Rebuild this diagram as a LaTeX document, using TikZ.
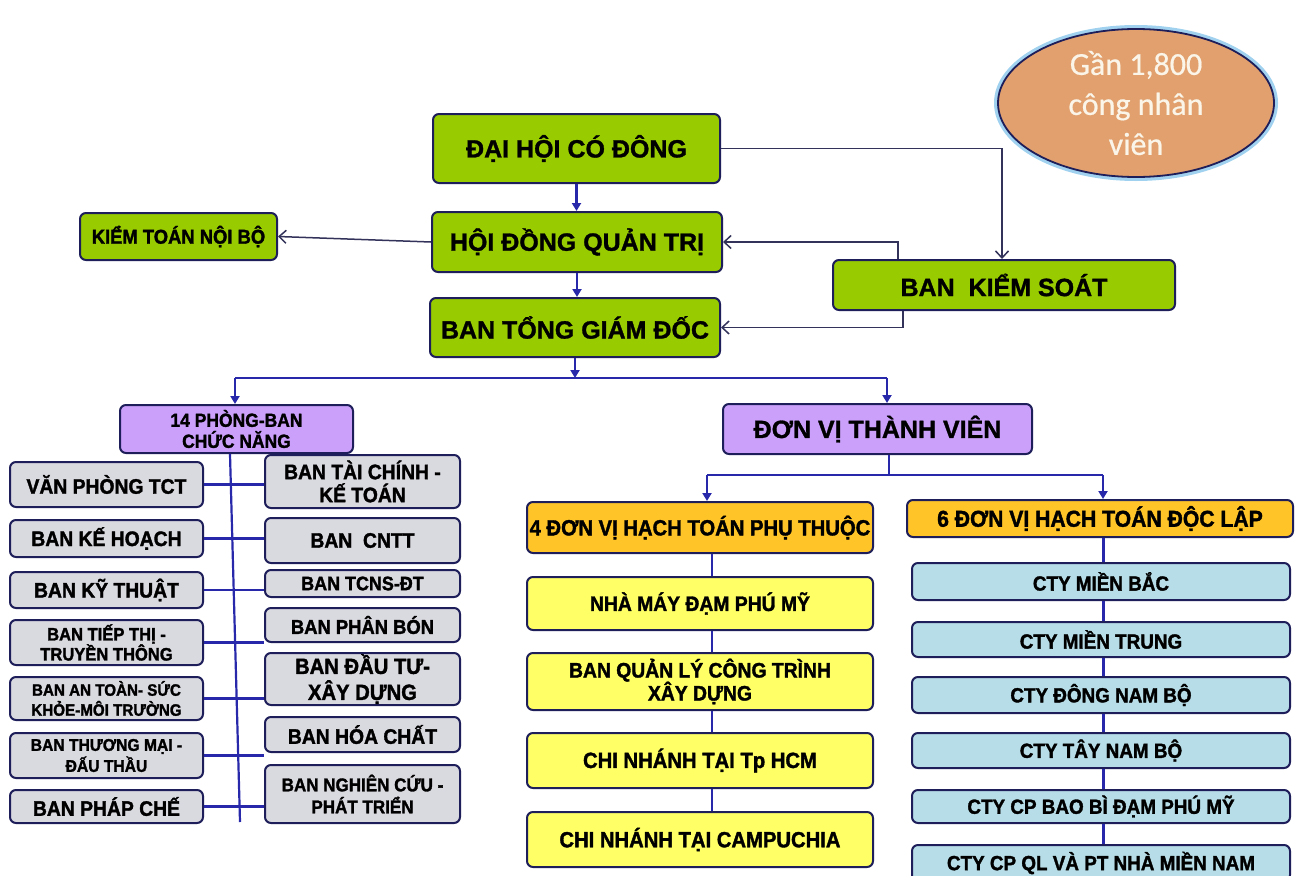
\documentclass[tikz,border=0pt]{standalone}
\usepackage{fontspec}
\setmainfont{Liberation Sans}[BoldFeatures={FakeBold=1.2}]
\newfontfamily\nfam{Liberation Sans}[FakeStretch=0.92, BoldFeatures={FakeBold=1.6}]
\newfontfamily\cfam{Carlito}[FakeBold=0.6]
\usetikzlibrary{arrows.meta,shapes.geometric,calc}
\definecolor{grn}{RGB}{153,204,0}
\definecolor{boxline}{RGB}{30,30,90}
\definecolor{gry}{RGB}{217,217,224}
\definecolor{pur}{RGB}{202,160,250}
\definecolor{org}{RGB}{255,196,40}
\definecolor{yel}{RGB}{255,255,102}
\definecolor{lbl}{RGB}{183,222,232}
\definecolor{conn}{RGB}{40,40,170}
\definecolor{thinc}{RGB}{50,50,90}
\definecolor{ellf}{RGB}{225,160,110}
\definecolor{glow}{RGB}{160,210,240}
\definecolor{etext}{RGB}{250,245,232}
\newcommand\fG[2]{\fontsize{#1}{#2}\selectfont\bfseries}
\newcommand\fN[2]{\nfam\fontsize{#1}{#2}\selectfont\bfseries}
\newcommand\BX[8]{%
  \pgfmathsetmacro\cxx{(#3+#5)/2}\pgfmathsetmacro\cyy{(#4+#6)/2}%
  \pgfmathsetmacro\ww{#5-#3}\pgfmathsetmacro\hh{#6-#4}%
  \node[#1, minimum width=\ww pt, minimum height=\hh pt, font=#7] (#2) at (\cxx,\cyy) {#8};}
\tikzset{
  basebox/.style={draw=boxline, line width=2pt, rounded corners=6pt, align=center, inner sep=0pt, text=black},
  gbox/.style={basebox, fill=grn},
  graybox/.style={basebox, fill=gry},
  pbox/.style={basebox, fill=pur},
  obox/.style={basebox, fill=org},
  ybox/.style={basebox, fill=yel},
  cbox/.style={basebox, fill=lbl},
  blueline/.style={draw=conn, line width=2.2pt},
  blarrow/.style={blueline, -{Triangle[length=8pt,width=9pt]}},
  grayarrow/.style={draw=thinc, line width=1.5pt, -{Straight Barb[length=7pt,width=13pt]}},
}
\begin{document}
\begin{tikzpicture}[x=1pt,y=-1pt]
\path[use as bounding box] (0,0) rectangle (1297,875);
\clip (0,0) rectangle (1297,875);
\fill[white] (0,0) rectangle (1297,875);

% ellipse
\node[ellipse, draw=glow, line width=6pt, minimum width=278pt, minimum height=150pt, inner sep=0pt] (ellg) at (1136,103) {};
\node[ellipse, draw=boxline, line width=1.8pt, fill=ellf, minimum width=276pt, minimum height=148pt, inner sep=0pt, align=center, text=etext, font=\cfam\fontsize{32}{40}\selectfont] (ell) at (1136,103) {Gần 1,800\\công nhân\\viên};

% top green boxes
\BX{gbox}{dhcd}{433}{114}{720}{183}{\fG{25}{28}}{ĐẠI HỘI CÓ ĐÔNG}
\BX{gbox}{hdqt}{432}{212}{722}{272}{\fG{25}{28}}{HỘI ĐỒNG QUẢN TRỊ}
\BX{gbox}{btgd}{430}{298}{720}{357}{\fG{25}{28}}{BAN TỔNG GIÁM ĐỐC}
\BX{gbox}{ktnb}{80}{213}{277}{260}{\fN{20}{22}}{KIỂM TOÁN NỘI BỘ}
\BX{gbox}{bks}{833}{260}{1175}{310}{\fG{25}{28}}{BAN\ \ KIỂM SOÁT}

% purple
\BX{pbox}{pb14}{120}{405}{353}{453}{\fN{19}{21}}{14 PHÒNG-BAN\\CHỨC NĂNG}
\BX{pbox}{dvtv}{723}{404}{1032}{454}{\fG{25}{28}}{ĐƠN VỊ THÀNH VIÊN}

% left column
\BX{graybox}{vp}{10}{462}{203}{507}{\fN{21}{23}}{VĂN PHÒNG TCT}
\BX{graybox}{kh}{10}{520}{203}{557}{\fN{21}{23}}{BAN KẾ HOẠCH}
\BX{graybox}{kt}{10}{572}{203}{608}{\fN{21}{23}}{BAN KỸ THUẬT}
\BX{graybox}{tt}{10}{620}{203}{665}{\fN{18}{20}}{BAN TIẾP THỊ -\\TRUYỀN THÔNG}
\BX{graybox}{at}{10}{677}{203}{720}{\fN{16.5}{20}}{BAN AN TOÀN- SỨC\\KHỎE-MÔI TRƯỜNG}
\BX{graybox}{tm}{10}{733}{203}{778}{\fN{17}{21}}{BAN THƯƠNG MẠI -\\ĐẤU THẦU}
\BX{graybox}{pc}{10}{790}{203}{823}{\fN{21}{23}}{BAN PHÁP CHẾ}

% right column
\BX{graybox}{tc}{265}{455}{460}{508}{\fN{21}{23}}{BAN TÀI CHÍNH -\\KẾ TOÁN}
\BX{graybox}{cntt}{265}{518}{460}{563}{\fN{21}{23}}{BAN\ \ CNTT}
\BX{graybox}{tcns}{265}{570}{460}{597}{\fN{19.5}{22}}{BAN TCNS-ĐT}
\BX{graybox}{pbon}{265}{608}{460}{642}{\fN{20}{22}}{BAN PHÂN BÓN}
\BX{graybox}{dt}{265}{653}{460}{705}{\fN{22}{26}}{BAN ĐẦU TƯ-\\XÂY DỰNG}
\BX{graybox}{hc}{265}{717}{460}{752}{\fN{21}{23}}{BAN HÓA CHẤT}
\BX{graybox}{nc}{265}{765}{460}{823}{\fN{18.5}{22}}{BAN NGHIÊN CỨU -\\PHÁT TRIỂN}

% middle column
\BX{obox}{dv4}{527}{502}{873}{553}{\fN{22}{24}}{4 ĐƠN VỊ HẠCH TOÁN PHỤ THUỘC}
\BX{ybox}{nm}{527}{577}{873}{630}{\fN{21}{23}}{NHÀ MÁY ĐẠM PHÚ MỸ}
\BX{ybox}{qlct}{527}{653}{873}{710}{\fN{21}{23}}{BAN QUẢN LÝ CÔNG TRÌNH\\XÂY DỰNG}
\BX{ybox}{hcm}{527}{733}{873}{788}{\fN{22}{24}}{CHI NHÁNH TẠI Tp HCM}
\BX{ybox}{cpc}{527}{812}{873}{867}{\fN{22}{24}}{CHI NHÁNH TẠI CAMPUCHIA}

% right-most column
\BX{obox}{dv6}{907}{500}{1293}{537}{\fN{23}{25}}{6 ĐƠN VỊ HẠCH TOÁN ĐỘC LẬP}
\BX{cbox}{mb}{912}{563}{1290}{600}{\fN{20.5}{23}}{CTY MIỀN BẮC}
\BX{cbox}{mt}{912}{622}{1290}{657}{\fN{20.5}{23}}{CTY MIỀN TRUNG}
\BX{cbox}{dnb}{912}{677}{1290}{713}{\fN{20.5}{23}}{CTY ĐÔNG NAM BỘ}
\BX{cbox}{tnb}{912}{733}{1290}{768}{\fN{20.5}{23}}{CTY TÂY NAM BỘ}
\BX{cbox}{bb}{912}{790}{1290}{823}{\fN{20.5}{23}}{CTY CP BAO BÌ ĐẠM PHÚ MỸ}
\BX{cbox}{ql}{912}{845}{1290}{881}{\fN{20.5}{23}}{CTY CP QL VÀ PT NHÀ MIỀN NAM}

% coordinates
\coordinate (busy) at (0,378);
\coordinate (bl) at (235,378);
\coordinate (br) at (887,378);
\coordinate (b2m) at (889,475);
\coordinate (b2l) at (707,475);
\coordinate (b2r) at (1103,475);
\coordinate (mx) at (712,0);
\coordinate (rx) at (1103,0);
\coordinate (sp1) at (230,0);
\coordinate (sp2) at (240,822);
\coordinate (kx) at (1002,0);
\coordinate (hx) at (898,0);
\coordinate (gx) at (903,0);

% main vertical flow
\draw[blarrow] (dhcd.south) -- (dhcd.south |- hdqt.north);
\draw[blarrow] (hdqt.south) -- (hdqt.south |- btgd.north);
\draw[blarrow] (btgd.south) -- (btgd.south |- busy);
\draw[blueline] (bl) -- (br);
\draw[blarrow] (bl) -- (bl |- pb14.north);
\draw[blarrow] (br) -- (br |- dvtv.north);

% control links
\draw[grayarrow] (dhcd.east) -| (kx |- bks.north);
\draw[grayarrow] (hx |- bks.north) |- (hdqt.east);
\draw[grayarrow] (gx |- bks.south) |- (btgd.east);
\draw[grayarrow] (hdqt.west) -- (ktnb.east);

% functional departments
\draw[blueline] (sp1 |- pb14.south) -- (sp2);
\draw[blueline] (vp.east) -- (vp.east -| tc.west);
\draw[blueline] (kh.east) -- (kh.east -| cntt.west);
\draw[blueline] (kt.east) -- (kt.east -| tcns.west);
\draw[blueline] (tt.east) -- (tt.east -| pbon.west);
\draw[blueline] (at.east) -- (at.east -| dt.west);
\draw[blueline] (tm.east) -- (tm.east -| hc.west);
\draw[blueline] (pc.east) -- (pc.east -| nc.west);

% member units
\draw[blueline] (b2m |- dvtv.south) -- (b2m);
\draw[blueline] (b2l) -- (b2r);
\draw[blarrow] (b2l) -- (b2l |- dv4.north);
\draw[blarrow] (b2r) -- (b2r |- dv6.north);
\draw[blueline] (mx |- dv4.south) -- (mx |- nm.north);
\draw[blueline] (mx |- nm.south) -- (mx |- qlct.north);
\draw[blueline] (mx |- qlct.south) -- (mx |- hcm.north);
\draw[blueline] (mx |- hcm.south) -- (mx |- cpc.north);
\draw[blueline, line width=3pt] (rx |- dv6.south) -- (rx |- mb.north);
\draw[blueline, line width=3pt] (rx |- mb.south) -- (rx |- mt.north);
\draw[blueline, line width=3pt] (rx |- mt.south) -- (rx |- dnb.north);
\draw[blueline, line width=3pt] (rx |- dnb.south) -- (rx |- tnb.north);
\draw[blueline, line width=3pt] (rx |- tnb.south) -- (rx |- bb.north);
\draw[blueline, line width=3pt] (rx |- bb.south) -- (rx |- ql.north);
\end{tikzpicture}
\end{document}
